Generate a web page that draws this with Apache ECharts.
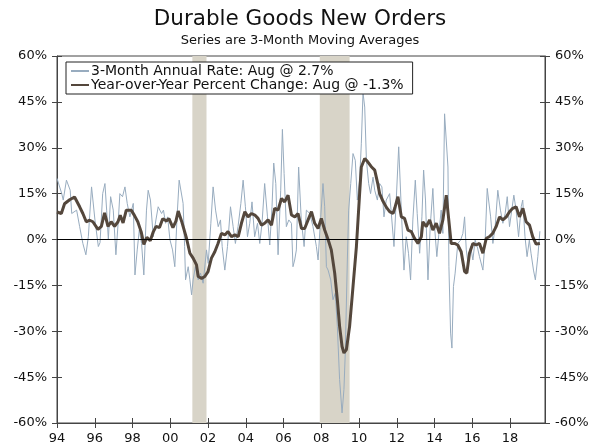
<!DOCTYPE html>
<html>
<head>
<meta charset="utf-8">
<script src="https://cdn.jsdelivr.net/npm/echarts/dist/echarts.min.js"></script>
<style>
  html, body { margin: 0; padding: 0; background: #fff; }
  #container { width: 600px; height: 448px; }
</style>
</head>
<body>
<div id="container"></div>
<script>
// 3-month annualized rate (thin line), [year, %]
var rate = [
  [1994.00, 20], [1994.07, 20.4], [1994.25, 15], [1994.33, 12.9], [1994.50, 19.4], [1994.70, 16.1],
  [1994.78, 8.5], [1994.86, 8], [1995.04, 9.6], [1995.20, 4.2], [1995.37, -1.3], [1995.53, -5],
  [1995.66, 0.9], [1995.83, 17.2], [1995.92, 17.2], [1996.01, 6.4], [1996.19, -2.3], [1996.28, -1],
  [1996.42, 15], [1996.54, 18.3], [1996.63, 9.6], [1996.72, 0], [1996.84, 14], [1996.98, 9.6],
  [1997.12, -5], [1997.25, 6.4], [1997.33, 15], [1997.47, 14], [1997.60, 17.2], [1997.72, 11.8],
  [1997.86, 7.4], [1998.04, 11.8], [1998.13, -11.6], [1998.25, -3.4], [1998.36, 3.1], [1998.48, -1.3],
  [1998.60, -11.6], [1998.74, 9.6], [1998.83, 16.1], [1998.95, 12.9], [1999.10, 0.9], [1999.24, 6.4],
  [1999.36, 10.7], [1999.54, 8.5], [1999.64, 9.6], [1999.75, 5.3], [1999.86, 7.4], [1999.98, 0],
  [2000.12, -3.4], [2000.24, -8.9], [2000.36, 7.4], [2000.47, 19.4], [2000.57, 20], [2000.68, 11.8],
  [2000.76, -2.3], [2000.81, -13.2], [2000.95, -8.9], [2001.04, -13.2], [2001.13, -18.1], [2001.21, -13.2],
  [2001.33, -8.9], [2001.48, -13.2], [2001.60, -11], [2001.74, -14.3], [2001.92, -3.4], [2002.01, -7.8],
  [2002.15, 5.3], [2002.27, 17.2], [2002.40, 9.6], [2002.54, 4.2], [2002.66, 6.4], [2002.75, -2.3],
  [2002.89, -10], [2003.03, -2.3], [2003.19, 10.7], [2003.33, 4.2], [2003.45, -1.3], [2003.59, 4.2],
  [2003.74, 11.8], [2003.86, 19.4], [2003.98, 10.7], [2004.09, 0.9], [2004.21, 5.3], [2004.33, 12.3],
  [2004.47, 0.9], [2004.62, 5.3], [2004.74, -1.3], [2004.86, 5.3], [2005.00, 18.3], [2005.15, 7.4],
  [2005.27, -1.8], [2005.39, 10.7], [2005.48, 25], [2005.59, 18.3], [2005.71, -5], [2005.85, 16.1],
  [2005.94, 36], [2006.03, 21.6], [2006.15, 4.2], [2006.28, 6.4], [2006.42, 5.3], [2006.50, -8.9],
  [2006.59, -6.7], [2006.68, -3.4], [2006.80, 23.7], [2006.94, 6.4], [2007.09, -2.3], [2007.21, 9.6],
  [2007.39, 8.5], [2007.56, 4.2], [2007.74, -2.3], [2007.83, -6.7], [2007.97, 7.4], [2008.09, 18.3],
  [2008.18, 10.7], [2008.27, -8.9], [2008.36, -10], [2008.50, -13.2], [2008.62, -19.7], [2008.74, -17.6],
  [2008.85, -28.4], [2008.97, -45.8], [2009.10, -56.7], [2009.20, -49], [2009.27, -37.1], [2009.38, -6.7],
  [2009.45, 9.6], [2009.56, 18.3], [2009.68, 28.1], [2009.80, 25.9], [2009.91, 12.9], [2010.03, 19.4],
  [2010.12, 31.3], [2010.21, 48], [2010.30, 43.3], [2010.39, 25.9], [2010.51, 18.3], [2010.61, 15],
  [2010.74, 20.4], [2010.83, 16.1], [2010.97, 12.9], [2011.09, 18.3], [2011.21, 17.2], [2011.32, 7.4],
  [2011.44, 12.9], [2011.62, 15], [2011.71, 8.5], [2011.85, -2.3], [2011.97, 12.9], [2012.10, 30.3],
  [2012.24, 9.6], [2012.38, -10], [2012.50, 0.9], [2012.62, -4.5], [2012.73, -13.2], [2012.85, 6.4],
  [2012.98, 19.4], [2013.08, 8.5], [2013.21, -4.5], [2013.33, 7.4], [2013.42, 22.7], [2013.52, 12.9],
  [2013.65, -13.2], [2013.77, 4.2], [2013.91, 16.7], [2014.00, 4.2], [2014.12, -5.6], [2014.23, 2],
  [2014.35, 9.6], [2014.44, 2], [2014.53, 41.1], [2014.62, 41.1], [2014.71, 23.7], [2014.76, -8.9],
  [2014.85, -30.6], [2014.92, -35.5], [2015.00, -15.4], [2015.09, -11], [2015.23, -1.3], [2015.38, -0.2],
  [2015.50, 2], [2015.59, 7.4], [2015.68, -3.4], [2015.77, -7.8], [2015.91, -2.3], [2016.03, -6.7],
  [2016.15, -0.2], [2016.26, -2.3], [2016.38, -5.6], [2016.56, -10], [2016.68, -0.2], [2016.79, 16.7],
  [2016.86, 16.1], [2016.97, 7.4], [2017.09, -1.3], [2017.21, 4.2], [2017.35, 16.1], [2017.49, 9.6],
  [2017.62, 5.3], [2017.74, 8.5], [2017.85, 14], [2017.97, 4.2], [2018.09, 9.6], [2018.20, 14.5],
  [2018.32, 9.6], [2018.45, 0.9], [2018.59, 10.7], [2018.67, 12.9], [2018.79, 0.9], [2018.90, -5.6],
  [2019.02, -0.2], [2019.11, -4.5], [2019.24, -10], [2019.34, -13.2], [2019.47, -5.6], [2019.58, 2.7]
];

// year-over-year % change (thick line), [year, %]
var yoy = [
  [1994.00, 9.0], [1994.10, 9.3], [1994.23, 8.5], [1994.40, 11.7], [1994.67, 13], [1994.93, 13.9],
  [1995.20, 10.7], [1995.37, 8.5], [1995.55, 5.8], [1995.73, 6.3], [1995.90, 5.8], [1996.17, 3.3],
  [1996.35, 4.3], [1996.52, 8.7], [1996.70, 4.3], [1996.87, 5.8], [1997.05, 4.3], [1997.23, 5.8],
  [1997.35, 7.9], [1997.50, 5.4], [1997.67, 9.6], [1997.93, 9.6], [1998.10, 7.9], [1998.28, 5.8],
  [1998.46, 2.5], [1998.60, -1.6], [1998.76, 0.7], [1998.94, -0.4], [1999.10, 2.5], [1999.25, 4.3],
  [1999.43, 3.9], [1999.60, 6.8], [1999.80, 6.1], [1999.93, 6.8], [2000.14, 3.9], [2000.30, 6],
  [2000.42, 9.3], [2000.60, 6], [2000.86, 0.4], [2001.04, -4.5], [2001.21, -6.1], [2001.39, -8.3],
  [2001.48, -12.1], [2001.66, -12.7], [2001.83, -12.1], [2002.00, -10.5], [2002.18, -6.1], [2002.36, -4],
  [2002.53, -1.3], [2002.71, 2], [2002.89, 1.5], [2003.06, 2.6], [2003.24, 0.9], [2003.42, 1.5],
  [2003.60, 0.9], [2003.77, 5.3], [2003.95, 9.1], [2004.12, 7.4], [2004.30, 8.5], [2004.48, 8],
  [2004.65, 6.9], [2004.83, 4.7], [2005.00, 5.3], [2005.18, 6.4], [2005.36, 4.7], [2005.53, 10.2],
  [2005.71, 9.6], [2005.89, 13.4], [2006.06, 12.3], [2006.24, 14.5], [2006.42, 8], [2006.60, 7.4],
  [2006.77, 8.5], [2006.95, 3.6], [2007.12, 3.6], [2007.30, 6.4], [2007.48, 9.1], [2007.65, 5.3],
  [2007.83, 3.6], [2008.00, 6.9], [2008.18, 3.1], [2008.36, 0], [2008.53, -3.4], [2008.71, -11],
  [2008.85, -19.7], [2008.97, -28.4], [2009.10, -35], [2009.20, -37.1], [2009.33, -36], [2009.50, -28.4],
  [2009.68, -15.4], [2009.86, -2.3], [2010.03, 15], [2010.12, 23.7], [2010.30, 26.5], [2010.45, 25.5],
  [2010.65, 23.8], [2010.83, 22.7], [2011.00, 18], [2011.09, 15], [2011.27, 12.5], [2011.45, 10.5],
  [2011.62, 9.1], [2011.80, 8.5], [2011.89, 10.2], [2012.06, 14], [2012.24, 7.4], [2012.41, 6.9],
  [2012.59, 3.1], [2012.77, 2.6], [2012.94, 0.4], [2013.12, -1.3], [2013.30, 0.9], [2013.38, 5.8],
  [2013.56, 4.2], [2013.74, 6.4], [2013.91, 3.1], [2014.09, 5.3], [2014.26, 2], [2014.44, 6.4],
  [2014.62, 14.5], [2014.70, 9.6], [2014.88, -1.3], [2015.06, -1.3], [2015.23, -1.8], [2015.41, -4],
  [2015.59, -10.5], [2015.71, -11], [2015.85, -4.5], [2016.03, -1.3], [2016.20, -1.8], [2016.38, -1.3],
  [2016.56, -4.5], [2016.74, 0.4], [2016.90, 0.9], [2017.08, 2], [2017.26, 4.2], [2017.44, 7.4],
  [2017.62, 6.4], [2017.80, 7.4], [2017.97, 9.1], [2018.14, 10.2], [2018.32, 10.7], [2018.50, 7.4],
  [2018.68, 10.2], [2018.85, 5.8], [2019.03, 4.7], [2019.20, 0.9], [2019.38, -1.5], [2019.58, -1.3]
];

// recessions (start, end)
var recessions = [[2001.17, 2001.92], [2007.92, 2009.50]];

var names = ['3-Month Annual Rate: Aug @ 2.7%', 'Year-over-Year Percent Change: Aug @ -1.3%'];

var xMin = 1994, xMax = 2019.85, yMin = -60, yMax = 60;

var dom = document.getElementById("container");
var myChart = echarts.init(dom);

function yearLabel(v) {
  var r = Math.round(v);
  if (Math.abs(v - r) > 0.01 || r % 2 !== 0) return '';
  return String(r % 100).padStart(2, '0');
}

var axisCol = '#444';
function xAx(inside) {
  return {
    type: 'value', min: xMin, max: xMax, interval: 2, position: 'bottom',
    axisLine: { show: !inside, onZero: false, lineStyle: { color: axisCol } },
    axisTick: { show: true, inside: inside, length: 5, lineStyle: { color: axisCol } },
    axisLabel: { show: !inside, formatter: yearLabel, showMaxLabel: false, margin: 9, fontSize: 13, color: '#111' },
    splitLine: { show: false }
  };
}
function yAx(pos, inside) {
  return {
    type: 'value', min: yMin, max: yMax, interval: 15, position: pos,
    axisLine: { show: !inside, onZero: false, lineStyle: { color: axisCol } },
    axisTick: { show: true, inside: inside, length: 5, lineStyle: { color: axisCol } },
    axisLabel: { show: !inside, formatter: '{value}%', margin: 10, fontSize: 13, color: '#111' },
    splitLine: { show: false }
  };
}

var option = {
  animation: false,
  backgroundColor: '#fff',
  textStyle: { fontFamily: 'DejaVu Sans' },
  title: {
    text: 'Durable Goods New Orders',
    subtext: 'Series are 3-Month Moving Averages',
    left: 'center', top: 3, itemGap: 4,
    textStyle: { fontSize: 21.5, fontWeight: 'normal', color: '#111', fontFamily: 'DejaVu Sans' },
    subtextStyle: { fontSize: 13, color: '#111', fontFamily: 'DejaVu Sans' }
  },
  legend: {
    data: names,
    orient: 'vertical',
    left: 66, top: 62,
    itemWidth: 18, itemHeight: 2, itemGap: 0,
    padding: [2, 9, 2, 4],
    borderColor: '#222', borderWidth: 1,
    backgroundColor: '#fff',
    itemStyle: { opacity: 0, borderWidth: 0 },
    textStyle: { fontSize: 14, color: '#111', fontFamily: 'DejaVu Sans', padding: [0, 0, 0, -3] }
  },
  grid: { left: 57, right: 55, top: 56, bottom: 25, show: true, borderColor: axisCol, borderWidth: 1 },
  xAxis: [xAx(false), xAx(true)],
  yAxis: [yAx('left', false), yAx('left', true), yAx('right', false), yAx('right', true)],
  series: [
    {
      name: names[0], type: 'line', data: rate, showSymbol: false, symbol: 'none',
      lineStyle: { color: '#98acbf', width: 1 }, itemStyle: { color: '#98acbf' },
      markArea: {
        silent: true,
        itemStyle: { color: '#d8d4c8', opacity: 1 },
        data: recessions.map(function (r) { return [{ xAxis: r[0] }, { xAxis: r[1] }]; })
      }
    },
    {
      name: names[1], type: 'line', data: yoy, showSymbol: false, symbol: 'none',
      lineStyle: { color: '#54473c', width: 3 }, itemStyle: { color: '#54473c' },
      markLine: {
        silent: true, symbol: 'none', label: { show: false },
        lineStyle: { color: '#000', width: 1, type: 'solid' },
        data: [{ yAxis: 0 }]
      }
    }
  ]
};
myChart.setOption(option, true);
</script>
</body>
</html>
